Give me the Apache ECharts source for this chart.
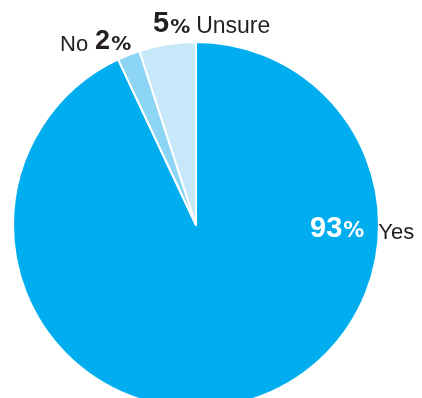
<!DOCTYPE html>
<html><head><meta charset="utf-8">
<script src="https://cdn.jsdelivr.net/npm/echarts@6/dist/echarts.min.js"></script>
<style>html,body{margin:0;padding:0;background:#fff}#c{width:422px;height:398px}</style>
</head><body><div id="c"></div>
<script>
var categories = ['Yes', 'No', 'Unsure'];
var values = [93, 2, 5];
var colors = ['#00AEEF', '#8DD5F5', '#C7E8F8'];
var labelPos = [[310, 229], [60, 42], [153, 24]];

var chart = echarts.init(document.getElementById('c'), null, {renderer: 'canvas'});
var dark = '#231f20';
var rich = {
  nw: {fontFamily: 'Liberation Sans', fontWeight: 'bold', fontSize: 29, color: '#ffffff', verticalAlign: 'bottom'},
  pw: {fontFamily: 'DejaVu Sans', fontWeight: 'bold', fontSize: 21, color: '#ffffff', verticalAlign: 'bottom', padding: [0, 0, 1, 1]},
  nb: {fontFamily: 'Liberation Sans', fontWeight: 'bold', fontSize: 29, color: dark, verticalAlign: 'bottom'},
  nb2: {fontFamily: 'Liberation Sans', fontWeight: 'bold', fontSize: 27, color: dark, verticalAlign: 'bottom', padding: [0, 0, 0, 7]},
  pb: {fontFamily: 'DejaVu Sans', fontWeight: 'bold', fontSize: 20, color: dark, verticalAlign: 'bottom', padding: [0, 0, 1, 1]},
  t: {fontFamily: 'Liberation Sans', fontSize: 23, color: dark, verticalAlign: 'bottom', padding: [0, 0, 0, 6]},
  ty: {fontFamily: 'Liberation Sans', fontSize: 22, color: dark, verticalAlign: 'bottom', padding: [0, 0, 0, 14]},
  tn: {fontFamily: 'Liberation Sans', fontSize: 22, color: dark, verticalAlign: 'bottom'}
};
function fmt(p) {
  var v = values[p.dataIndex], n = categories[p.dataIndex];
  if (p.dataIndex === 0) return '{nw|' + v + '}{pw|%}{ty|' + n + '}';
  if (p.dataIndex === 1) return '{tn|' + n + '}{nb2|' + v + '}{pb|%}';
  return '{nb|' + v + '}{pb|%}{t|' + n + '}';
}
chart.setOption({
  animation: false,
  series: [{
    type: 'pie',
    center: [196, 225],
    radius: 183,
    startAngle: 90,
    clockwise: true,
    data: categories.map(function (c, i) {
      return {name: c, value: values[i], itemStyle: {color: colors[i]}};
    }),
    itemStyle: {borderColor: '#ffffff', borderWidth: 2},
    label: {show: true, position: 'outside', formatter: fmt, rich: rich, overflow: 'none'},
    labelLine: {show: false},
    labelLayout: function (params) {
      var p = labelPos[params.dataIndex];
      return {x: p[0], y: p[1], align: 'left', verticalAlign: 'middle'};
    }
  }]
});
</script></body></html>
